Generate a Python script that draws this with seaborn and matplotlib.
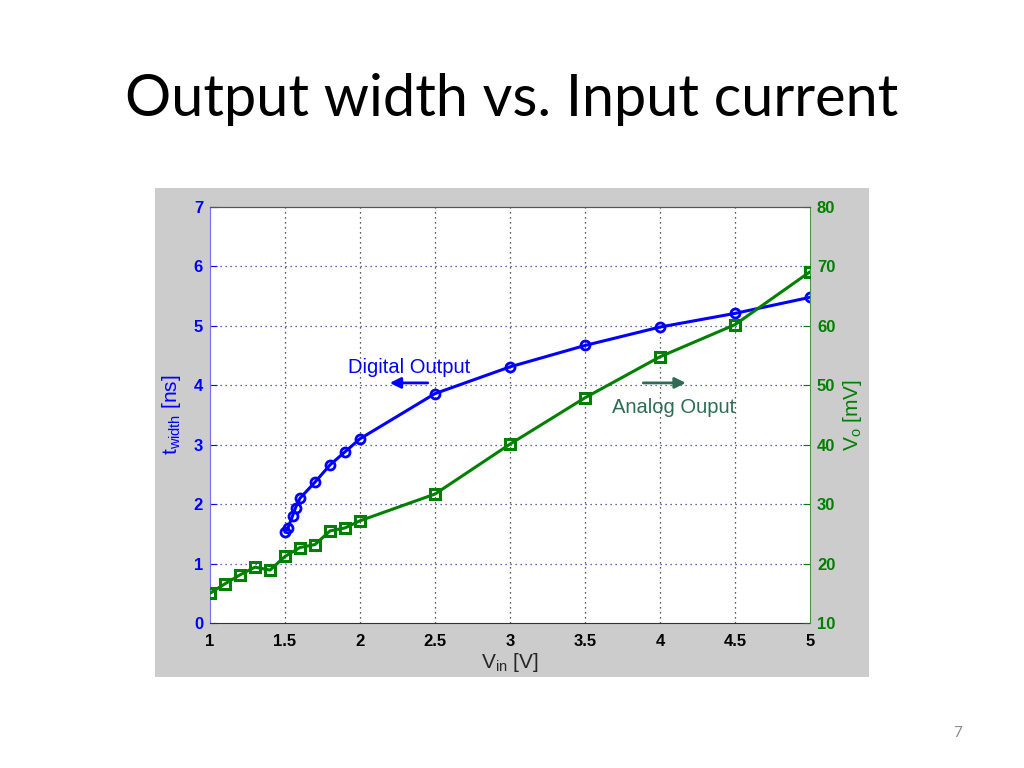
import numpy as np
import matplotlib
matplotlib.use("Agg")
import matplotlib.pyplot as plt
import seaborn as sns
from matplotlib.patches import Rectangle

# data
vin_digital = [1.5, 1.52, 1.55, 1.57, 1.6, 1.7, 1.8, 1.9, 2.0, 2.5, 3.0, 3.5, 4.0, 4.5, 5.0]
t_width = [1.53, 1.6, 1.8, 1.94, 2.1, 2.37, 2.66, 2.88, 3.1, 3.86, 4.31, 4.67, 4.98, 5.21, 5.48]

vin_analog = [1.0, 1.1, 1.2, 1.3, 1.4, 1.5, 1.6, 1.7, 1.8, 1.9, 2.0, 2.5, 3.0, 3.5, 4.0, 4.5, 5.0]
v_out = [15.0, 16.6, 18.1, 19.4, 18.9, 21.2, 22.7, 23.2, 25.5, 26.0, 27.2, 31.7, 40.1, 47.9, 54.8, 60.2, 69.1]

x_ticks = [1, 1.5, 2, 2.5, 3, 3.5, 4, 4.5, 5]
x_ticklabels = ["1", "1.5", "2", "2.5", "3", "3.5", "4", "4.5", "5"]
left_ticks = [0, 1, 2, 3, 4, 5, 6, 7]
right_ticks = [10, 20, 30, 40, 50, 60, 70, 80]

BLUE = "#0000ff"
GREEN = "#008000"
ANALOG = "#2f6b55"

sns.set_style("white")
plt.rcParams["font.family"] = ["Liberation Sans", "DejaVu Sans"]

fig = plt.figure(figsize=(10.24, 7.68), dpi=100)
fig.patch.set_facecolor("white")

# gray matlab figure panel
fig.add_artist(Rectangle((155 / 1024, 1 - 677 / 768), 714 / 1024, 489 / 768,
                         transform=fig.transFigure, facecolor="#cccccc",
                         edgecolor="none", zorder=-10))

ax = fig.add_axes([210 / 1024, 1 - 623 / 768, 600 / 1024, 416 / 768])
ax.set_facecolor("white")
ax2 = ax.twinx()

sns.lineplot(x=vin_digital, y=t_width, ax=ax, color=BLUE, lw=2.2, marker="o",
             markersize=6.5, markerfacecolor="none", markeredgecolor=BLUE,
             markeredgewidth=2, zorder=5)
sns.lineplot(x=vin_analog, y=v_out, ax=ax2, color=GREEN, lw=2.2, marker="s",
             markersize=6.5, markerfacecolor="none", markeredgecolor=GREEN,
             markeredgewidth=2.2, zorder=5)

ax.set_xlim(1, 5)
ax.set_ylim(0, 7)
ax2.set_ylim(10, 80)
ax.set_xticks(x_ticks)
ax.set_xticklabels(x_ticklabels)
ax.set_yticks(left_ticks)
ax2.set_yticks(right_ticks)

# grid
for xv in x_ticks[1:-1]:
    ax.axvline(xv, color="#222222", lw=0.9, ls=(0, (1, 3)), zorder=1)
for yv in left_ticks[1:-1]:
    ax.axhline(yv, color="#3333aa", lw=0.9, ls=(0, (1, 3)), zorder=1)

ax.tick_params(axis="x", direction="in", length=5, colors="black", labelsize=12, pad=8)
ax.tick_params(axis="y", direction="in", length=5, colors=BLUE, labelsize=12, pad=5)
ax2.tick_params(axis="y", direction="in", length=5, colors=GREEN, labelsize=12, pad=5)
for lab in ax.get_xticklabels() + ax.get_yticklabels() + ax2.get_yticklabels():
    lab.set_fontweight("bold")

ax.spines["left"].set_color("#7070ff")
ax.spines["bottom"].set_color("#333333")
ax.spines["top"].set_color("#555555")
ax.spines["right"].set_visible(False)
ax2.spines["right"].set_color("#4f8f4f")
ax2.spines["left"].set_visible(False)
ax2.spines["top"].set_color("#555555")
ax2.spines["bottom"].set_visible(False)

ax.set_xlabel(r"V$_{\mathregular{in}}$ [V]", fontsize=15, labelpad=1)
ax.set_ylabel(r"t$_{\mathregular{width}}$ [ns]", fontsize=15, color=BLUE, labelpad=8)
ax2.set_ylabel(r"V$_{\mathregular{o}}$ [mV]", fontsize=15, color=GREEN, labelpad=4)
ax2.yaxis.set_label_position("right")

# annotations
ax.text(1.92, 4.3, "Digital Output", color=BLUE, fontsize=14.5, va="center", ha="left")
ax.annotate("", xy=(2.18, 4.04), xytext=(2.47, 4.04),
            arrowprops=dict(arrowstyle="-|>", color=BLUE, lw=2, mutation_scale=16))
ax.text(3.68, 3.63, "Analog Ouput", color=ANALOG, fontsize=14.5, va="center", ha="left")
ax.annotate("", xy=(4.19, 4.04), xytext=(3.87, 4.04),
            arrowprops=dict(arrowstyle="-|>", color=ANALOG, lw=2, mutation_scale=16))

fig.text(0.5, 1 - 100 / 768, "Output width vs. Input current", ha="center", va="center",
         fontsize=41.5, color="black", family=["Lato", "DejaVu Sans"])
fig.text(958 / 1024, 1 - 733 / 768, "7", ha="center", va="center", fontsize=11,
         color="#8c8c8c", family=["Lato", "DejaVu Sans"])

fig.savefig("out.png", dpi=100)
